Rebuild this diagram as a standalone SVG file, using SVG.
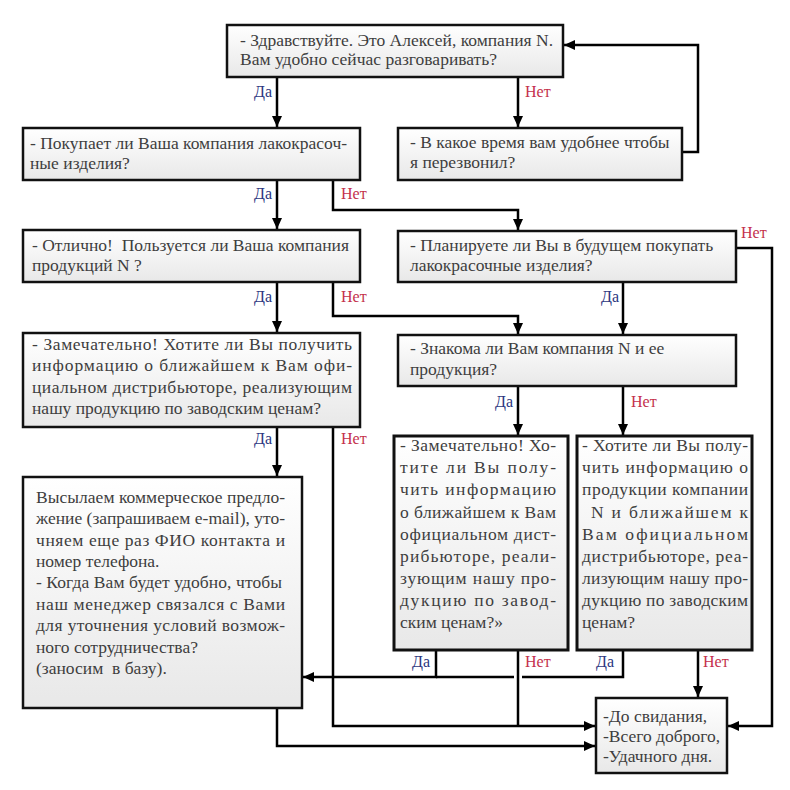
<svg xmlns="http://www.w3.org/2000/svg" width="790" height="790" viewBox="0 0 790 790">
<defs>
<linearGradient id="g" x1="0" y1="0" x2="0" y2="1">
<stop offset="0" stop-color="#ffffff"/>
<stop offset="1" stop-color="#e8e8e8"/>
</linearGradient>
<marker id="ah" markerUnits="userSpaceOnUse" markerWidth="12" markerHeight="12" refX="11" refY="5" orient="auto">
<path d="M0,0 L11,5 L0,10 z" fill="#000"/>
</marker>
<style>
.box{fill:url(#g);stroke:#111;stroke-width:2.5}
.bx{fill:url(#g);stroke:#111;stroke-width:3}
text{font-family:'Liberation Serif','Times New Roman',serif}
.t{font-size:17.5px;fill:#3e3e3e}
.da{font-size:16px;fill:#2b3580}
.net{font-size:16px;fill:#c4304c}
.c{fill:none;stroke:#000;stroke-width:2.5}
.a{marker-end:url(#ah)}
</style>
</defs>
<rect width="790" height="790" fill="#fff"/>

<g id="connectors">
<path class="c a" d="M277,77 V127"/>
<path class="c a" d="M518,77 V127"/>
<path class="c a" d="M682,152 H698 V45 H564"/>
<path class="c a" d="M277,180 V229"/>
<path class="c a" d="M333,180 V210 H518 V230"/>
<path class="c a" d="M277,282 V332"/>
<path class="c a" d="M333,282 V316 H518 V334"/>
<path class="c a" d="M623,282 V334"/>
<path class="c a" d="M736,248 H772 V726 H728"/>
<path class="c a" d="M518,386 V435"/>
<path class="c a" d="M623,386 V435"/>
<path class="c a" d="M277,427 V476"/>
<path class="c a" d="M333,427 V726 H595"/>
<path class="c" d="M518,650 V726"/>
<path class="c a" d="M436,650 V677 H303"/>
<path class="c" d="M514,677 H436"/>
<path class="c" d="M623,650 V677 H522"/>
<path class="c a" d="M698,650 V697"/>
<path class="c a" d="M277,708 V746 H595"/>
<text class="da" x="272" y="97" text-anchor="end">Да</text>
<text class="net" x="525" y="97">Нет</text>
<text class="da" x="272" y="199" text-anchor="end">Да</text>
<text class="net" x="341" y="199">Нет</text>
<text class="da" x="272" y="302" text-anchor="end">Да</text>
<text class="net" x="341" y="302">Нет</text>
<text class="da" x="619" y="302" text-anchor="end">Да</text>
<text class="net" x="741" y="238">Нет</text>
<text class="da" x="513" y="407" text-anchor="end">Да</text>
<text class="net" x="631" y="407">Нет</text>
<text class="da" x="272" y="444" text-anchor="end">Да</text>
<text class="net" x="341" y="444">Нет</text>
<text class="da" x="430" y="667" text-anchor="end">Да</text>
<text class="net" x="525" y="667">Нет</text>
<text class="da" x="614" y="667" text-anchor="end">Да</text>
<text class="net" x="703" y="667">Нет</text>
</g>

<g id="n1">
<rect class="box" x="227" y="25" width="336" height="52"/>
<text class="t" x="240" y="46">- Здравствуйте. Это Алексей, компания N.</text>
<text class="t" x="240" y="65">Вам удобно сейчас разговаривать?</text>
</g>

<g id="n2">
<rect class="box" x="23" y="128" width="337" height="52"/>
<text class="t" x="30" y="149">- Покупает ли Ваша компания лакокрасоч-</text>
<text class="t" x="30" y="169">ные изделия?</text>
</g>

<g id="n3">
<rect class="box" x="398" y="128" width="284" height="52"/>
<text class="t" x="410" y="148">- В какое время вам удобнее чтобы</text>
<text class="t" x="410" y="168">я перезвонил?</text>
</g>

<g id="n4">
<rect class="box" x="23" y="230" width="337" height="52"/>
<text class="t" x="32" y="251" xml:space="preserve">- Отлично!  Пользуется ли Ваша компания</text>
<text class="t" x="32" y="271">продукций N ?</text>
</g>

<g id="n5">
<rect class="box" x="398" y="231" width="338" height="51"/>
<text class="t" x="410" y="251">- Планируете ли Вы в будущем покупать</text>
<text class="t" x="410" y="271">лакокрасочные изделия?</text>
</g>

<g id="n6">
<rect class="box" x="23" y="333" width="337" height="94"/>
<text class="t" x="32" y="350" textLength="320" lengthAdjust="spacing">- Замечательно! Хотите ли Вы получить</text>
<text class="t" x="32" y="371" textLength="320" lengthAdjust="spacing">информацию о ближайшем к Вам офи-</text>
<text class="t" x="32" y="393" textLength="320" lengthAdjust="spacing">циальном дистрибьюторе, реализующим</text>
<text class="t" x="32" y="414">нашу продукцию по заводским ценам?</text>
</g>

<g id="n7">
<rect class="box" x="398" y="335" width="338" height="51"/>
<text class="t" x="410" y="354">- Знакома ли Вам компания N и ее</text>
<text class="t" x="410" y="375">продукция?</text>
</g>

<g id="n8">
<rect class="box" x="23" y="477" width="279" height="231"/>
<text class="t" x="36" y="503" textLength="249" lengthAdjust="spacing">Высылаем коммерческое предло-</text>
<text class="t" x="36" y="524" textLength="249" lengthAdjust="spacing">жение (запрашиваем e-mail), уто-</text>
<text class="t" x="36" y="546" textLength="249" lengthAdjust="spacing">чняем еще раз ФИО контакта и</text>
<text class="t" x="36" y="567">номер телефона.</text>
<text class="t" x="36" y="588" textLength="246" lengthAdjust="spacing">- Когда Вам будет удобно, чтобы</text>
<text class="t" x="36" y="610" textLength="249" lengthAdjust="spacing">наш менеджер связался с Вами</text>
<text class="t" x="36" y="631" textLength="249" lengthAdjust="spacing">для уточнения условий возмож-</text>
<text class="t" x="36" y="653">ного сотрудничества?</text>
<text class="t" x="36" y="674" xml:space="preserve">(заносим  в базу).</text>
</g>

<g id="n9">
<rect class="bx" x="394" y="436" width="174" height="214"/>
<text class="t" x="400" y="451" textLength="156" lengthAdjust="spacing">- Замечательно! Хо-</text>
<text class="t" x="400" y="473" textLength="156" lengthAdjust="spacing">тите ли Вы полу-</text>
<text class="t" x="400" y="495" textLength="156" lengthAdjust="spacing">чить информацию</text>
<text class="t" x="400" y="518" textLength="156" lengthAdjust="spacing">о ближайшем к Вам</text>
<text class="t" x="400" y="540" textLength="156" lengthAdjust="spacing">официальном дист-</text>
<text class="t" x="400" y="562" textLength="156" lengthAdjust="spacing">рибьюторе, реали-</text>
<text class="t" x="400" y="584" textLength="156" lengthAdjust="spacing">зующим нашу про-</text>
<text class="t" x="400" y="606" textLength="156" lengthAdjust="spacing">дукцию по завод-</text>
<text class="t" x="400" y="628">ским ценам?»</text>
</g>

<g id="n10">
<rect class="bx" x="577" y="436" width="175" height="214"/>
<text class="t" x="582" y="451" textLength="166" lengthAdjust="spacing">- Хотите ли Вы полу-</text>
<text class="t" x="582" y="473" textLength="166" lengthAdjust="spacing">чить информацию о</text>
<text class="t" x="582" y="495" textLength="166" lengthAdjust="spacing">продукции компании</text>
<text class="t" x="591" y="518" textLength="157" lengthAdjust="spacing">N и ближайшем к</text>
<text class="t" x="582" y="540" textLength="166" lengthAdjust="spacing">Вам официальном</text>
<text class="t" x="582" y="562" textLength="166" lengthAdjust="spacing">дистрибьюторе, реа-</text>
<text class="t" x="582" y="584" textLength="166" lengthAdjust="spacing">лизующим нашу про-</text>
<text class="t" x="582" y="606" textLength="166" lengthAdjust="spacing">дукцию по заводским</text>
<text class="t" x="582" y="628">ценам?</text>
</g>

<g id="n11">
<rect class="box" x="596" y="698" width="131" height="75"/>
<text class="t" x="603" y="722">-До свидания,</text>
<text class="t" x="603" y="742">-Всего доброго,</text>
<text class="t" x="603" y="762">-Удачного дня.</text>
</g>
</svg>
